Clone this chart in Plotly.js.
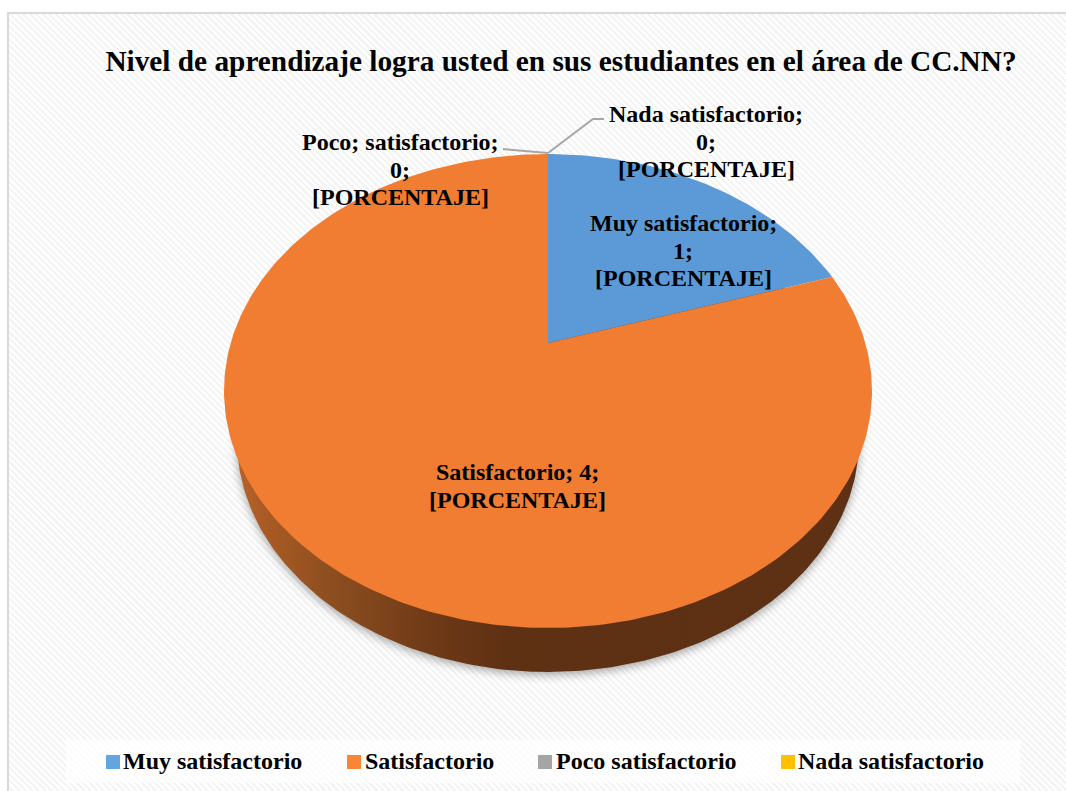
<!DOCTYPE html>
<html><head><meta charset="utf-8">
<script src="https://cdn.plot.ly/plotly-3.0.1.min.js"></script>
<style>
html,body{margin:0;padding:0;background:#fff;overflow:hidden}
#frame{position:absolute;left:7px;top:12px;width:1100px;height:820px;border:2px solid #d9d9d9;
background:repeating-linear-gradient(45deg,#f4f4f4 0,#f4f4f4 2.3px,#fff 2.3px,#fff 4.6px)}
#chart{position:absolute;left:0;top:0;width:1066px;height:791px}
</style></head><body>
<div id="frame"></div><div id="chart"></div>
<script>
const titleText = 'Nivel de aprendizaje logra usted en sus estudiantes en el área de CC.NN?';
const categories = ['Muy satisfactorio','Satisfactorio','Poco satisfactorio','Nada satisfactorio'];
const values = [1,4,0,0];
const sliceColors = ['#5b9ad6','#f07d31','#a5a5a5','#ffc000'];
const legendColors = ['#62a5e0','#f98535','#a5a5a5','#ffc000'];
const legendSwatchX = [106,347,538,781];
const legendTextX = [122,364,555,797];
const labelLines = [
  ['Muy satisfactorio;','1;','[PORCENTAJE]'],
  ['Satisfactorio; 4;','[PORCENTAJE]'],
  ['Poco; satisfactorio;','0;','[PORCENTAJE]'],
  ['Nada satisfactorio;','0;','[PORCENTAJE]']
];
const labelCenterX = [683,517,400,706];
const labelFirstY = [223,472,142,114];
const LINE = 27.6;

// perspective projection of the pie disc on to the page
const CX=548, APEX=343, A=-157.8, C=0.2025, K=317.3;
function project(t){
  const X=Math.sin(t), Y=Math.cos(t), d=C*Y+1;
  return [CX+K*X/d, (A*Y+APEX)/d];
}
const total = values.reduce((a,b)=>a+b,0);
let cum = 0;
const FONT='"Liberation Serif", "Times New Roman", serif';
const traces = [];

// side wall of the disc
const rx=[],ry=[];
const RIM={cx:548,cy:440,a:311,b:232};
for(let i=0;i<=360;i+=1){const t=i*Math.PI/180;rx.push(RIM.cx+RIM.a*Math.sin(t));ry.push(RIM.cy+RIM.b*Math.cos(t));}
traces.push({type:'scatter',x:rx,y:ry,mode:'lines',line:{width:0},fill:'toself',showlegend:false,hoverinfo:'skip',
  fillgradient:{type:'horizontal',colorscale:[[0,'#b5622a'],[0.05,'#a85a24'],[0.16,'#8b4d1f'],[0.31,'#6f3a17'],[0.43,'#5f3113'],[1,'#5e3014']]}});

values.forEach((v,i)=>{
  const a0=cum/total*2*Math.PI; cum+=v; const a1=cum/total*2*Math.PI;
  const xs=[CX], ys=[APEX];
  const n=Math.max(1,Math.round((a1-a0)*180/Math.PI));
  for(let k=0;k<=n;k++){const p=project(a0+(a1-a0)*k/n);xs.push(p[0]);ys.push(p[1]);}
  xs.push(CX);ys.push(APEX);
  traces.push({type:'scatter',name:categories[i],x:xs,y:ys,mode:'lines',line:{width:0},fill:'toself',fillcolor:sliceColors[i],showlegend:false,hoverinfo:'name'});
});

const annotations=[];
labelLines.forEach((lines,i)=>lines.forEach((s,j)=>annotations.push({
  x:labelCenterX[i],y:labelFirstY[i]+j*LINE,text:'<b>'+s+'</b>',showarrow:false,xanchor:'center',yanchor:'middle',
  font:{family:FONT,size:24,color:'#000'}})));
categories.forEach((c,i)=>annotations.push({x:legendTextX[i],y:761,text:'<b>'+c+'</b>',showarrow:false,xanchor:'left',yanchor:'middle',xshift:-1,
  font:{family:FONT,size:24,color:'#000'}}));

const shapes=[
  {type:'rect',layer:'below',x0:66,x1:1020,y0:740,y1:783,fillcolor:'rgba(255,255,255,0.75)',line:{width:0}},
  {type:'path',path:'M548,153 L593,119 L604,119',line:{color:'#a6a6a6',width:2}},
  {type:'path',path:'M548,153 L513,150 L503,149',line:{color:'#a6a6a6',width:2}}
];
legendSwatchX.forEach((x,i)=>shapes.push({type:'rect',x0:x,x1:x+14,y0:755,y1:769,fillcolor:legendColors[i],line:{width:0}}));

const layout={width:1066,height:791,margin:{l:0,r:0,t:0,b:0},paper_bgcolor:'rgba(0,0,0,0)',plot_bgcolor:'rgba(0,0,0,0)',
  showlegend:false,
  title:{text:'<b>'+titleText+'</b>',x:561/1066,xanchor:'center',y:1-61/791,yanchor:'middle',font:{family:FONT,size:29.3,color:'#000'}},
  xaxis:{range:[0,1066],visible:false,fixedrange:true},
  yaxis:{range:[791,0],visible:false,fixedrange:true},
  annotations,shapes};
Plotly.newPlot('chart',traces,layout,{displayModeBar:false}).then(gd=>{
  const f=gd.querySelector('.scatterlayer .trace .js-fill');
  if(f) f.style.filter='drop-shadow(0 3px 5px rgba(0,0,0,0.35))';
});
</script>
</body></html>
